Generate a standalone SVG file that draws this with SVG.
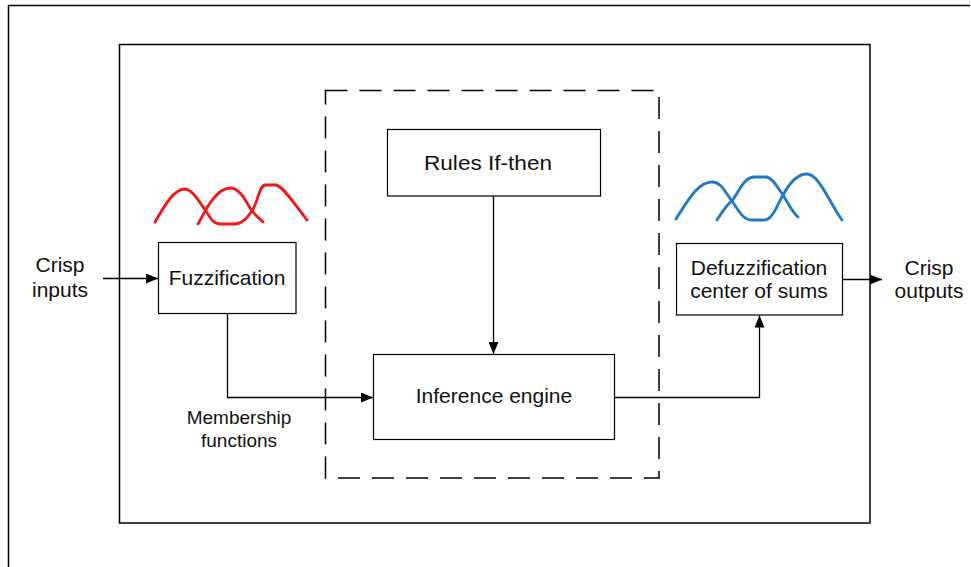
<svg xmlns="http://www.w3.org/2000/svg" width="971" height="567" viewBox="0 0 971 567">
  <defs>
    <marker id="arrow" viewBox="0 0 12 10" refX="12" refY="5" markerWidth="12" markerHeight="10" markerUnits="userSpaceOnUse" orient="auto">
      <path d="M0,0 L12,5 L0,10 Z" fill="#000"/>
    </marker>
  </defs>
  <style>
    .box { fill: #fff; stroke: #000; stroke-width: 1.2; }
    .frame { fill: none; stroke: #000; stroke-width: 1.5; }
    .dash { fill: none; stroke: #000; stroke-width: 1.5; stroke-dasharray: 22 12; }
    .edge { fill: none; stroke: #000; stroke-width: 1.3; marker-end: url(#arrow); }
    .label { font-family: "Liberation Sans", Arial, sans-serif; font-size: 21px; fill: #111; text-anchor: middle; }
    .small { font-size: 19px; }
    .red { fill: none; stroke: #f01818; stroke-width: 2.8; stroke-linecap: round; stroke-linejoin: round; }
    .blue { fill: none; stroke: #1f78c8; stroke-width: 2.8; stroke-linecap: round; stroke-linejoin: round; }
  </style>

  <rect width="971" height="567" fill="#fff"/>

  <!-- page frame (top and left edges) -->
  <path class="frame" d="M8.5,567 V5.5 H970"/>

  <!-- system boundary -->
  <rect class="frame" x="119.5" y="44.5" width="750.5" height="478.5"/>

  <!-- inference block boundary -->
  <rect class="dash" x="325.5" y="90.5" width="333.5" height="387.5"/>

  <!-- membership function sketches -->
  <g id="input-mf">
    <path class="red" d="M155,222 C166,203 174,190 184,189 C193,189 199,202 206,211 C211,219 213,224 221,224 L234,224 C242,224 247,218 252,211 C258,202 259,186 265,185 L276,185 C283,186 296,206 307,220"/>
    <path class="red" d="M198,224 C204,214 214,189 230,188 C241,188 247,204 252,211 C256,216 260,219 263,222"/>
  </g>
  <g id="output-mf">
    <path class="blue" d="M676,219 C688,200 698,182 712,182 C722,182 726,194 732,201 C739,211 743,220 752,220 L764,220 C773,220 778,203 783,195 C789,184 797,174 807,174 C819,174 830,204 842,220"/>
    <path class="blue" d="M717,220 C722,212 727,204 732,201 C740,190 744,177 755,177 L766,177 C772,177 778,188 783,195 C789,205 793,213 798,217"/>
  </g>

  <!-- nodes -->
  <g id="crisp-inputs">
    <text class="label" x="60" y="272">Crisp</text>
    <text class="label" x="60" y="297">inputs</text>
  </g>
  <g id="fuzzification">
    <rect class="box" x="158.5" y="242.5" width="137.5" height="71"/>
    <text class="label" x="227" y="285">Fuzzification</text>
  </g>
  <g id="rules">
    <rect class="box" x="387.5" y="129.5" width="213" height="66.5"/>
    <text class="label" x="488" y="170" textLength="128" lengthAdjust="spacingAndGlyphs">Rules If-then</text>
  </g>
  <g id="inference">
    <rect class="box" x="373.5" y="354.5" width="241" height="85"/>
    <text class="label" x="494" y="403">Inference engine</text>
  </g>
  <g id="defuzzification">
    <rect class="box" x="676.5" y="243.5" width="166" height="71.5"/>
    <text class="label" x="759" y="275">Defuzzification</text>
    <text class="label" x="759" y="298">center of sums</text>
  </g>
  <g id="crisp-outputs">
    <text class="label" x="929" y="275">Crisp</text>
    <text class="label" x="929" y="298">outputs</text>
  </g>
  <g id="membership-label">
    <text class="label small" x="239" y="424">Membership</text>
    <text class="label small" x="239" y="447">functions</text>
  </g>

  <!-- connectors -->
  <g id="connectors">
    <path class="edge" d="M103,278.5 H158"/>
    <path class="edge" d="M227.5,314 V397.5 H373"/>
    <path class="edge" d="M493.5,196 V354"/>
    <path class="edge" d="M615,397.5 H759.5 V315.5"/>
    <path class="edge" d="M843,279.5 H882"/>
  </g>
</svg>
